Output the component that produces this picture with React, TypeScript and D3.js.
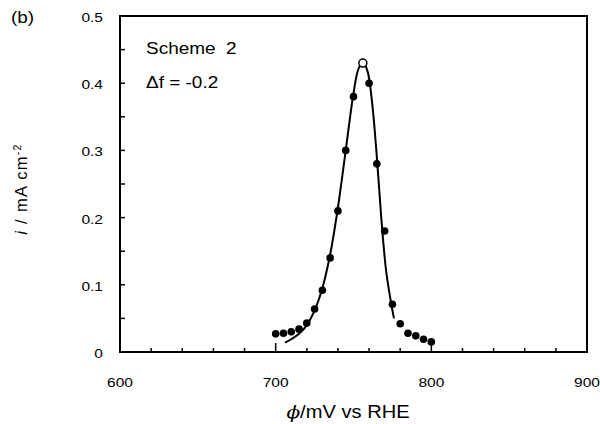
import React from "react";
import * as d3 from "d3";

const dotPhi = [700, 705, 710, 715, 720, 725, 730, 735, 740, 745, 750, 760, 765, 770, 775, 780, 785, 790, 795, 800];
const dotI = [0.027, 0.028, 0.030, 0.034, 0.043, 0.064, 0.092, 0.14, 0.21, 0.30, 0.38, 0.40, 0.28, 0.18, 0.071, 0.042, 0.028, 0.024, 0.019, 0.015];
const peakPhi = [756];
const peakI = [0.43];
const curvePhi = [706, 710, 715, 720, 725, 730, 735, 740, 745, 750, 753, 756, 759, 762, 765, 768, 771, 774, 776];
const curveI = [0.014, 0.019, 0.027, 0.04, 0.062, 0.095, 0.145, 0.215, 0.30, 0.385, 0.42, 0.432, 0.418, 0.37, 0.29, 0.195, 0.12, 0.075, 0.05];
const xTickLabels = [600, 700, 800, 900];
const yTickLabels = [0, 0.1, 0.2, 0.3, 0.4, 0.5];

const L = 120, R = 587, T = 16, B = 352;
const SX = 1.15;

function T2({ x, y, size, anchor = "start", children }: any) {
  return (
    <text transform={`translate(${x},${y}) scale(${SX},1)`} fontSize={size} textAnchor={anchor}>
      {children}
    </text>
  );
}

export default function App() {
  const x = d3.scaleLinear().domain([600, 900]).range([L, R]);
  const y = d3.scaleLinear().domain([0, 0.5]).range([B, T]);
  const line = d3
    .line<number>()
    .x((_, i) => x(curvePhi[i]))
    .y((d) => y(d))
    .curve(d3.curveCatmullRom.alpha(0.5));
  const xMinor = d3.range(620, 900, 20);
  const yMinor = d3.range(0.05, 0.5, 0.05);
  const font = "Liberation Sans, Arial, sans-serif";
  return (
    <svg width={600} height={424} style={{ position: "absolute", left: 0, top: 0, background: "#fff" }}>
      <g fontFamily={font} fill="#000">
        <T2 x={11} y={23} size={16.5}>(b)</T2>
        <T2 x={146} y={54} size={16.5}>{"Scheme\u00a0\u00a02"}</T2>
        <T2 x={146} y={88} size={16.5}>Δf = -0.2</T2>
        {yTickLabels.map((v) => (
          <T2 key={v} x={103} y={y(v) + 6} size={13.5} anchor="end">
            {v === 0 ? "0" : v.toFixed(1)}
          </T2>
        ))}
        {xTickLabels.map((v) => (
          <T2 key={v} x={x(v)} y={387} size={13.5} anchor="middle">{v}</T2>
        ))}
        <T2 x={348} y={418} size={17.5} anchor="middle">
          <tspan fontStyle="italic" fontFamily="DejaVu Serif, serif">ϕ</tspan>/mV vs RHE
        </T2>
        <text transform={`translate(27, 189) rotate(-90)`} fontSize={16.5} textAnchor="middle" letterSpacing={1.3}>
          <tspan fontStyle="italic">i</tspan> / mA cm<tspan dy={-6} fontSize={10.5}>-2</tspan>
        </text>
      </g>
      <g stroke="#000" fill="none">
        <rect x={L} y={T} width={R - L} height={B - T} strokeWidth={2} />
        {xMinor.map((v) => (
          <line key={v} x1={x(v)} x2={x(v)} y1={B} y2={B - (v % 100 === 0 ? 9 : 4)} strokeWidth={1.5} />
        ))}
        {yMinor.map((v) => (
          <line key={v} x1={L} x2={L + 5} y1={y(v)} y2={y(v)} strokeWidth={1.5} />
        ))}
        <path d={line(curveI) || ""} strokeWidth={2} />
      </g>
      <g>
        {dotI.map((v, i) => (
          <circle key={i} cx={x(dotPhi[i])} cy={y(v)} r={3.8} fill="#000" />
        ))}
        {peakI.map((v, i) => (
          <circle key={i} cx={x(peakPhi[i])} cy={y(v)} r={4} fill="#fff" stroke="#000" strokeWidth={1.5} />
        ))}
      </g>
    </svg>
  );
}
